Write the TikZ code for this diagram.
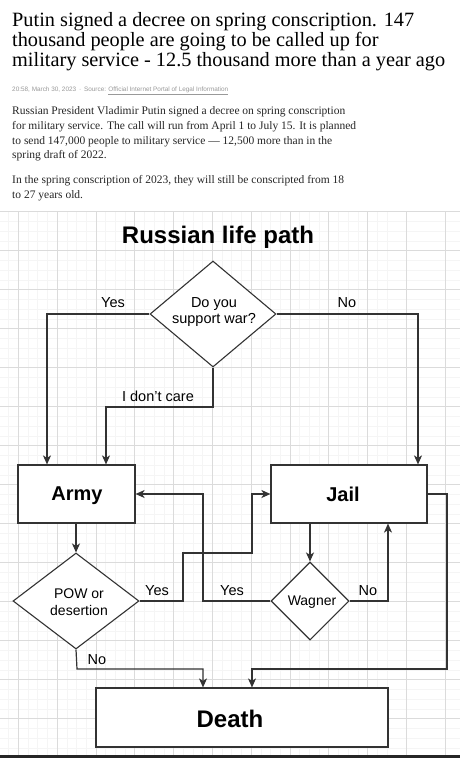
\documentclass[tikz,border=0pt]{standalone}
\usepackage{fontspec}
\setmainfont{Liberation Serif}
\setsansfont{Liberation Sans}
\usetikzlibrary{shapes.geometric,arrows.meta}
\tikzset{
  box/.style={draw=black!80,line width=1.2pt,fill=white,rectangle,inner sep=0pt},
  dia/.style={draw=black!80,line width=1.1pt,fill=white,diamond,inner sep=0pt},
  conn/.style={draw=black!80,line width=1.2pt},
  arr/.style={conn,-{Stealth[length=9pt,width=8pt,inset=2.5pt]}},
  lbl/.style={font=\sffamily\fontsize{14.5}{14.5}\selectfont,inner sep=0pt},
  hdr/.style={anchor=base west,inner sep=0pt,font=\fontsize{20.3}{21}\selectfont},
  bodytxt/.style={anchor=base west,inner sep=0pt,font=\fontsize{11.5}{12}\selectfont,text=black!85}
}
\begin{document}
\begin{tikzpicture}[x=1pt,y=-1pt]
\useasboundingbox (0,0) rectangle (460,758);
\fill[white] (0,0) rectangle (460,758);
% header
\node[hdr] (h1) at (12,26) {Putin signed a decree on spring conscription. 147};
\node[hdr] (h2) at (12,46) {thousand people are going to be called up for};
\node[hdr] (h3) at (12,66) {military service - 12.5 thousand more than a year ago};
\node[anchor=base west,inner sep=0pt,font=\sffamily\fontsize{6.4}{7}\selectfont,text=black!40] (date) at (12,91) {20:58, March 30, 2023 \,·\, Source: \underline{Official Internet Portal of Legal Information}};
\node[bodytxt] (b1) at (12,114) {Russian President Vladimir Putin signed a decree on spring conscription};
\node[bodytxt] (b2) at (12,129) {for military service. The call will run from April 1 to July 15. It is planned};
\node[bodytxt] (b3) at (12,144) {to send 147,000 people to military service — 12,500 more than in the};
\node[bodytxt] (b4) at (12,158) {spring draft of 2022.};
\node[bodytxt] (b5) at (12,183) {In the spring conscription of 2023, they will still be conscripted from 18};
\node[bodytxt] (b6) at (12,198) {to 27 years old.};
% grid
\begin{scope}
\clip (0,211) rectangle (460,755);
\foreach \i in {0,...,48} {
  \draw[black!4,line width=0.5pt] (18.3+9.7*\i-97,205) -- (18.3+9.7*\i-97,760);
}
\foreach \i in {0,...,60} {
  \draw[black!4,line width=0.5pt] (-5,211.5+9.75*\i) -- (465,211.5+9.75*\i);
}
\foreach \i in {0,...,12} {
  \draw[black!14,line width=0.8pt] (18.3+38.8*\i,205) -- (18.3+38.8*\i,760);
}
\foreach \i in {0,...,14} {
  \draw[black!14,line width=0.8pt] (-5,211.5+39*\i) -- (465,211.5+39*\i);
}
\end{scope}
\fill[black!85] (0,755) rectangle (460,758);
% title
\node[font=\sffamily\bfseries\fontsize{24}{24}\selectfont,anchor=base] (title) at (218,243) {Russian life path};
% nodes
\node[dia,minimum width=126pt,minimum height=106pt] (q) at (213,314) {};
\node[font=\sffamily\fontsize{14.5}{16}\selectfont,align=center] (qt) at (214,312) {Do you\\support war?};
\node[box,minimum width=117pt,minimum height=58pt] (army) at (76.5,494) {};
\node[font=\sffamily\bfseries\fontsize{20}{20}\selectfont] (armyt) at (77,496) {Army};
\node[box,minimum width=156pt,minimum height=58pt] (jail) at (349,494) {};
\node[font=\sffamily\bfseries\fontsize{20}{20}\selectfont] (jailt) at (343,494) {Jail};
\node[dia,minimum width=126pt,minimum height=96pt] (pow) at (76,601) {};
\node[font=\sffamily\fontsize{14}{16.5}\selectfont,align=center] (powt) at (79,602) {POW or\\desertion};
\node[dia,minimum width=78pt,minimum height=78pt] (wag) at (310,601) {};
\node[font=\sffamily\fontsize{14}{14}\selectfont] (wagt) at (312,602) {Wagner};
\node[box,minimum width=292pt,minimum height=59pt] (death) at (242,717.5) {};
\node[font=\sffamily\bfseries\fontsize{24}{24}\selectfont] (deatht) at (230,719) {Death};
% coordinates
\coordinate (c1) at (47,314);
\coordinate (c2) at (418,314);
\coordinate (c3) at (106,407);
\coordinate (c4) at (213,407);
\coordinate (p1) at (183,601);
\coordinate (p2) at (183,553);
\coordinate (p3) at (252,553);
\coordinate (p4) at (252,494);
\coordinate (w1) at (203,601);
\coordinate (w2) at (203,494);
\coordinate (w3) at (388,601);
\coordinate (j1) at (447,494);
\coordinate (j2) at (447,669);
\coordinate (j3) at (252,669);
\coordinate (n1) at (77,669);
\coordinate (n2) at (203,669);
% connectors
\draw[arr] (q.west) -- (c1) -- (army.north -| c1);
\draw[arr] (q.east) -- (c2) -- (jail.north -| c2);
\draw[arr] (q.south) -- (c4) -- (c3) -- (army.north -| c3);
\draw[arr] (army.south -| pow.north) -- (pow.north);
\draw[arr] (pow.east) -- (p1) -- (p2) -- (p3) -- (p4) -- (jail.west |- p4);
\draw[arr] (jail.south -| wag.north) -- (wag.north);
\draw[arr] (wag.west) -- (w1) -- (w2) -- (army.east |- w2);
\draw[arr] (wag.east) -- (w3) -- (jail.south -| w3);
\draw[arr] (jail.east |- j1) -- (j1) -- (j2) -- (j3) -- (death.north -| j3);
\draw[arr] (pow.south) -- (n1) -- (n2) -- (death.north -| n2);
% labels
\node[lbl] (l1) at (113,303) {Yes};
\node[lbl] (l2) at (347,303) {No};
\node[lbl] (l3) at (158,396) {I don\symbol{"0027}t care};
\node[lbl] (l4) at (157,591) {Yes};
\node[lbl] (l5) at (232,591) {Yes};
\node[lbl] (l6) at (368,591) {No};
\node[lbl] (l7) at (97,660) {No};
\end{tikzpicture}
\end{document}
